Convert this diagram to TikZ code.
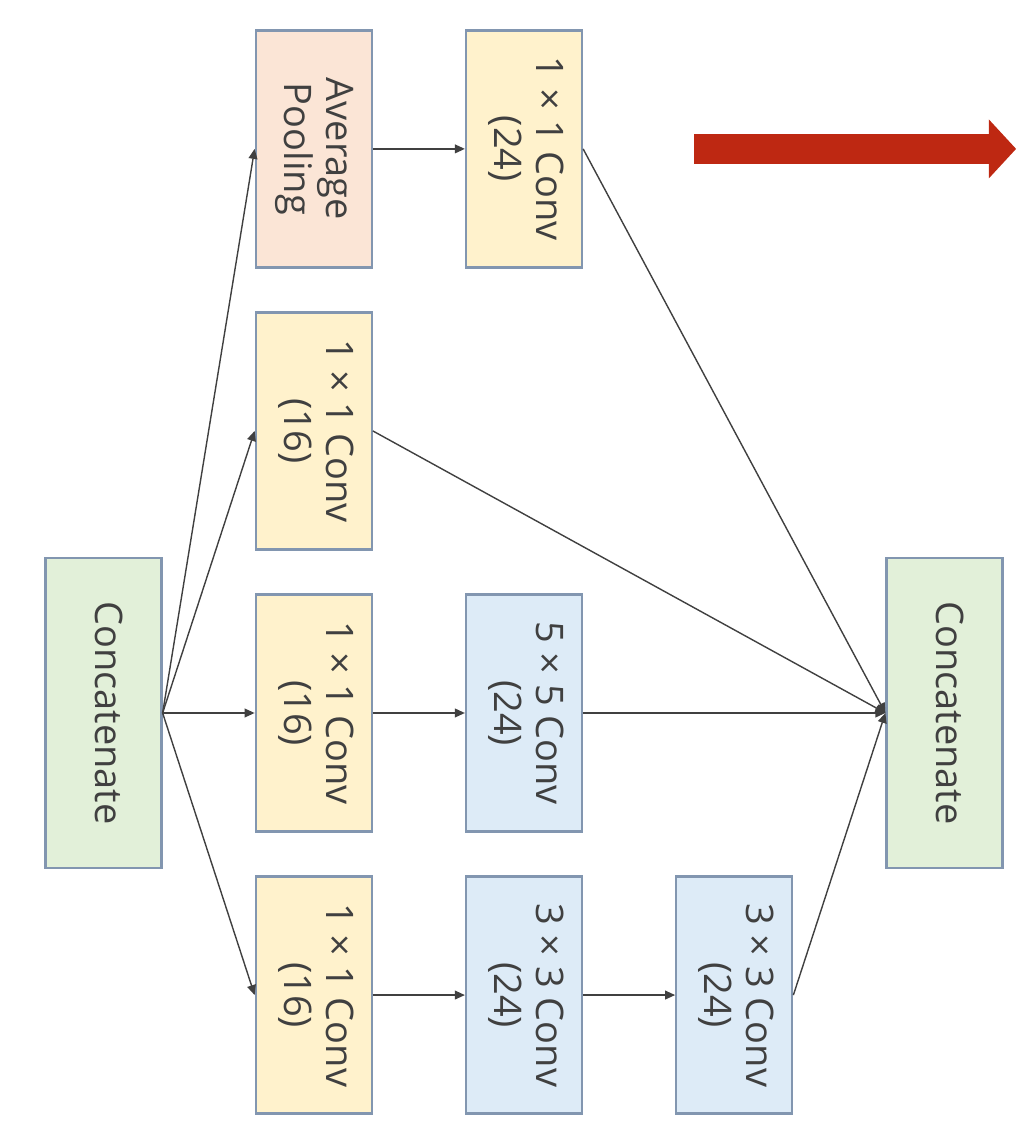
\documentclass[tikz,border=0pt]{standalone}
\usepackage{fontspec}
\setmainfont{Open Sans}
\usepackage{tikz}
\usetikzlibrary{
    positioning,
    arrows.meta
}
\definecolor{BoxBorder}{RGB}{130,150,176}
\definecolor{TextGray}{RGB}{64,64,64}
\definecolor{PoolPeach}{RGB}{251,229,214}
\definecolor{ConvYellow}{RGB}{255,242,204}
\definecolor{ConvBlue}{RGB}{221,235,247}
\definecolor{ConcatGreen}{RGB}{226,240,217}
\definecolor{BigRed}{RGB}{190,40,18}
\newcommand{\vlabel}[1]{\rotatebox{-90}{\begin{tabular}{@{}c@{}}#1\end{tabular}}}

\begin{document}
\begin{tikzpicture}[
    block/.style={rectangle, draw=BoxBorder, line width=1.6pt, minimum width=2.9cm, minimum height=5.925cm, inner sep=0pt, text=TextGray, font=\fontsize{27}{30}\selectfont},
    pool/.style={block, fill=PoolPeach},
    conv/.style={block, fill=ConvYellow},
    bigconv/.style={block, fill=ConvBlue},
    concat/.style={block, minimum height=7.75cm, fill=ConcatGreen},
    arrow/.style={draw=TextGray, line width=1pt, -{Triangle[length=0.25cm, width=0.22cm]}},
    bigarrow/.style={draw=BigRed, line width=0.75cm, -{Triangle[length=0.68cm, width=1.43cm]}}
]
\useasboundingbox (-2.5875,-10.75) rectangle (22.8375,17.825);

\node[concat] (cin) {\vlabel{Concatenate}};
\node[conv, right=2.3cm of cin] (c1) {\vlabel{1 × 1 Conv\\(16)}};
\node[conv, above=1.07cm of c1] (b1) {\vlabel{1 × 1 Conv\\(16)}};
\node[pool, above=1.07cm of b1] (a1) {\vlabel{Average\\Pooling}};
\node[conv, below=1.07cm of c1] (d1) {\vlabel{1 × 1 Conv\\(16)}};
\node[conv, right=2.3cm of a1] (a2) {\vlabel{1 × 1 Conv\\(24)}};
\node[bigconv, right=2.3cm of c1] (c2) {\vlabel{5 × 5 Conv\\(24)}};
\node[bigconv, right=2.3cm of d1] (d2) {\vlabel{3 × 3 Conv\\(24)}};
\node[bigconv, right=2.3cm of d2] (d3) {\vlabel{3 × 3 Conv\\(24)}};
\node[concat, anchor=west, xshift=2.3cm] (cout) at (d3.east |- cin) {\vlabel{Concatenate}};

% fan out
\draw[arrow] (cin.east) -- (a1.west);
\draw[arrow] (cin.east) -- (b1.west);
\draw[arrow] (cin.east) -- (c1.west);
\draw[arrow] (cin.east) -- (d1.west);

% branches
\draw[arrow] (a1) -- (a2);
\draw[arrow] (c1) -- (c2);
\draw[arrow] (d1) -- (d2);
\draw[arrow] (d2) -- (d3);

% fan in
\draw[arrow] (a2.east) -- (cout.west);
\draw[arrow] (b1.east) -- (cout.west);
\draw[arrow] (c2.east) -- (cout.west);
\draw[arrow] (d3.east) -- (cout.west);

% big red arrow
\coordinate[right=2.775cm of a2.east] (rs);
\coordinate[right=10.825cm of a2.east] (re);
\draw[bigarrow] (rs) -- (re);
\end{tikzpicture}
\end{document}
